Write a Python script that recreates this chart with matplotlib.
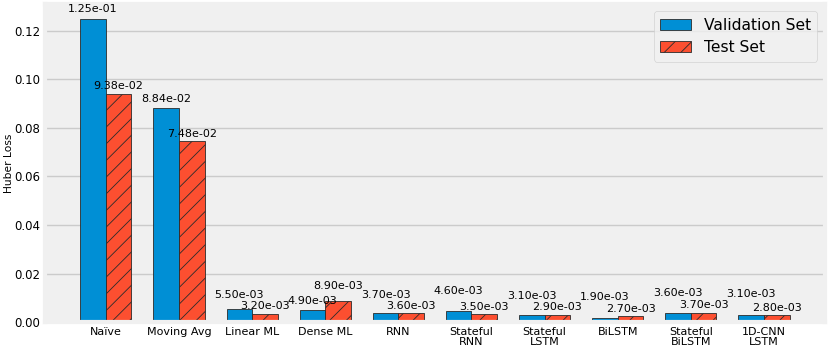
import matplotlib
matplotlib.use("Agg")
import matplotlib.pyplot as plt
import numpy as np

models = ['Naïve', 'Moving Avg', 'Linear ML', 'Dense ML', 'RNN',
          'Stateful\nRNN', 'Stateful\nLSTM', 'BiLSTM', 'Stateful\nBiLSTM', '1D-CNN\nLSTM']
val_loss = [1.25e-01, 8.84e-02, 5.50e-03, 4.90e-03, 3.70e-03,
            4.60e-03, 3.10e-03, 1.90e-03, 3.60e-03, 3.10e-03]
test_loss = [9.38e-02, 7.48e-02, 3.20e-03, 8.90e-03, 3.60e-03,
             3.50e-03, 2.90e-03, 2.70e-03, 3.70e-03, 2.80e-03]

# label offsets above bar tops (points), tuned by eye to avoid overlaps
val_off = [7, 6.5, 10, 6.5, 13, 14.5, 13.5, 14.5, 15, 14.5]
test_off = [6, 5, 6, 10.5, 5, 5, 6, 5, 6, 5]

plt.style.use('fivethirtyeight')
plt.rcParams['hatch.linewidth'] = 0.6
plt.rcParams['font.family'] = ['DejaVu Sans']

fig, ax = plt.subplots(figsize=(8.3, 3.54), dpi=100)
fig.patch.set_facecolor('white')
fig.subplots_adjust(left=0.054, right=0.994, top=0.99, bottom=0.09)

x = np.arange(len(models))
w = 0.35
b1 = ax.bar(x - w / 2, val_loss, w, color='#008fd5', edgecolor='#2b2b2b',
            linewidth=0.6, label='Validation Set')
b2 = ax.bar(x + w / 2, test_loss, w, color='#fc4f30', edgecolor='#2b2b2b',
            linewidth=0.6, hatch='//', label='Test Set')

for bars, offs in [(b1, val_off), (b2, test_off)]:
    for rect, off in zip(bars, offs):
        h = rect.get_height()
        ax.annotate(f'{h:.2e}', xy=(rect.get_x() + rect.get_width() / 2, h),
                    xytext=(0, off), textcoords='offset points',
                    ha='center', va='center', fontsize=8)

ax.set_xticks(x)
ax.set_xticklabels(models, fontsize=8, linespacing=0.95)
ax.tick_params(axis='y', labelsize=8.5)
ax.set_ylabel('Huber Loss', fontsize=7.7, labelpad=0)
ax.grid(axis='x', visible=False)
ax.grid(axis='y', color='#cbcbcb', linewidth=1)
ax.set_axisbelow(True)

ax.legend(loc='upper right', fontsize=11.2, frameon=True)

fig.savefig('out.png', dpi=100, facecolor='white')
